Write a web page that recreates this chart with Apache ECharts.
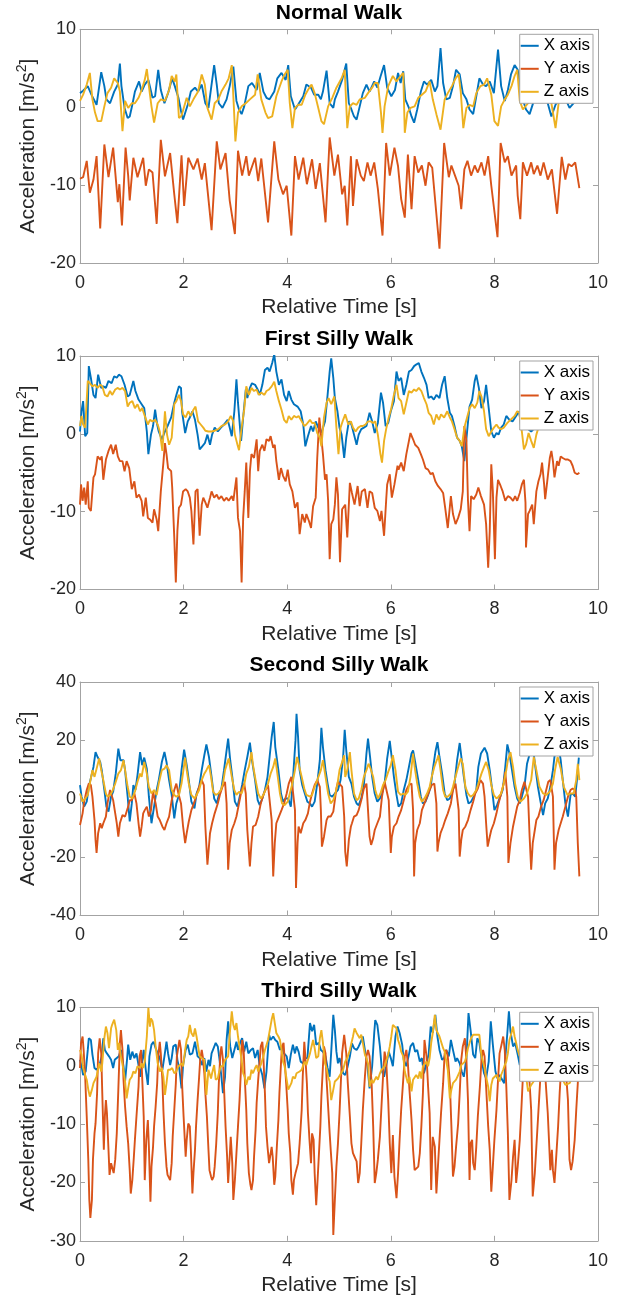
<!DOCTYPE html>
<html>
<head>
<meta charset="utf-8">
<title>Walk acceleration</title>
<script src="https://cdn.jsdelivr.net/npm/echarts@6/dist/echarts.min.js"></script>
<style>
  html, body { margin: 0; padding: 0; background: #fff; }
  #chart { width: 625px; height: 1302px; }
</style>
</head>
<body>
<div id="chart"></div>
<script>
// samples: [time s, acceleration m/s^2]
const normalX = [[0.00,1.8],[0.06,2.1],[0.15,2.7],[0.22,1.6],[0.32,0.3],[0.41,4.5],[0.47,2.7],[0.51,1.0],[0.58,0.5],[0.66,2.0],[0.73,2.9],[0.77,5.6],[0.80,2.7],[0.86,-0.1],[0.92,-1.4],[0.96,-1.2],[1.01,0.3],[1.06,2.0],[1.14,3.3],[1.19,2.0],[1.25,2.9],[1.32,3.5],[1.40,1.2],[1.45,1.4],[1.51,4.8],[1.56,2.2],[1.63,0.5],[1.70,1.8],[1.78,3.7],[1.83,2.7],[1.90,1.2],[1.95,-0.5],[1.99,-1.6],[2.08,0.3],[2.14,2.0],[2.22,2.5],[2.28,2.0],[2.35,2.9],[2.42,0.5],[2.48,-0.1],[2.59,5.4],[2.64,2.9],[2.68,0.5],[2.75,-0.1],[2.83,1.0],[2.89,2.7],[2.96,5.2],[3.02,0.8],[3.07,-0.3],[3.12,-0.9],[3.17,0.1],[3.25,2.7],[3.32,3.1],[3.41,2.2],[3.47,4.4],[3.54,2.0],[3.60,1.2],[3.66,1.0],[3.75,2.0],[3.81,3.7],[3.89,4.4],[3.97,3.5],[4.02,5.4],[4.07,1.4],[4.15,-0.3],[4.21,0.3],[4.31,1.4],[4.37,2.9],[4.46,2.5],[4.52,1.6],[4.60,1.6],[4.65,1.0],[4.69,2.0],[4.76,4.7],[4.82,0.5],[4.89,-0.1],[4.92,1.0],[4.98,2.0],[5.06,3.5],[5.14,5.6],[5.19,0.5],[5.24,-0.3],[5.29,-1.2],[5.34,-1.6],[5.40,0.1],[5.46,1.8],[5.53,2.9],[5.59,2.0],[5.68,3.3],[5.74,2.5],[5.80,3.9],[5.87,5.4],[5.93,2.5],[6.01,1.4],[6.08,2.2],[6.14,4.4],[6.19,3.1],[6.24,4.6],[6.28,1.0],[6.35,-0.1],[6.40,-1.2],[6.45,-2.0],[6.51,-0.3],[6.58,2.0],[6.64,3.3],[6.70,2.9],[6.78,3.5],[6.85,2.0],[6.90,2.7],[6.96,7.6],[7.01,3.1],[7.07,1.0],[7.14,1.2],[7.20,2.7],[7.26,4.8],[7.33,4.2],[7.39,1.8],[7.46,1.0],[7.52,-0.3],[7.59,-0.9],[7.65,1.4],[7.71,3.7],[7.78,2.9],[7.84,2.7],[7.91,3.3],[7.99,1.8],[8.07,7.4],[8.13,2.7],[8.20,0.8],[8.26,2.2],[8.32,4.2],[8.39,5.4],[8.45,4.8],[8.52,1.6],[8.61,-0.3],[8.68,-0.9],[8.77,1.0],[8.90,2.0],[9.03,0.5],[9.10,-1.2],[9.18,0.3],[9.26,1.2],[9.35,1.4],[9.45,-0.1],[9.53,0.5],[9.63,1.3]];
const normalY = [[0.00,-9.2],[0.06,-9.0],[0.13,-6.9],[0.19,-11.0],[0.26,-9.3],[0.32,-6.3],[0.39,-15.6],[0.47,-4.8],[0.55,-9.0],[0.64,-5.2],[0.73,-12.2],[0.76,-9.9],[0.81,-15.2],[0.88,-5.2],[0.93,-8.8],[0.96,-12.0],[1.03,-6.5],[1.11,-9.0],[1.22,-6.5],[1.27,-10.1],[1.33,-8.0],[1.40,-8.4],[1.48,-15.0],[1.56,-4.2],[1.64,-8.9],[1.74,-5.9],[1.82,-11.2],[1.88,-14.9],[1.96,-6.2],[2.01,-12.7],[2.09,-6.5],[2.19,-8.0],[2.27,-6.6],[2.35,-9.3],[2.41,-7.2],[2.54,-15.8],[2.64,-4.4],[2.71,-8.0],[2.81,-5.9],[2.89,-12.0],[2.99,-16.3],[3.05,-5.6],[3.13,-8.8],[3.21,-6.3],[3.26,-8.8],[3.38,-6.5],[3.44,-9.5],[3.50,-6.6],[3.63,-14.8],[3.75,-4.4],[3.83,-9.3],[3.92,-11.2],[3.99,-10.1],[4.08,-16.5],[4.15,-6.3],[4.22,-9.3],[4.31,-6.5],[4.38,-9.9],[4.48,-6.7],[4.55,-10.5],[4.63,-7.2],[4.74,-14.8],[4.82,-3.9],[4.91,-8.8],[4.98,-6.1],[5.06,-11.2],[5.11,-10.1],[5.16,-15.2],[5.23,-6.3],[5.27,-12.7],[5.34,-6.7],[5.42,-8.8],[5.48,-9.5],[5.55,-7.1],[5.61,-8.8],[5.68,-7.1],[5.75,-10.5],[5.84,-16.5],[5.91,-4.6],[5.98,-8.8],[6.07,-5.2],[6.14,-7.6],[6.20,-11.8],[6.27,-14.2],[6.33,-6.1],[6.40,-13.1],[6.46,-6.3],[6.53,-8.4],[6.60,-7.5],[6.67,-10.1],[6.73,-7.1],[6.80,-7.8],[6.94,-18.2],[7.03,-4.6],[7.12,-9.0],[7.17,-7.5],[7.24,-8.8],[7.31,-10.1],[7.36,-13.1],[7.42,-8.0],[7.48,-6.9],[7.55,-8.8],[7.62,-7.5],[7.68,-8.4],[7.75,-7.1],[7.81,-8.8],[7.88,-6.3],[7.94,-10.1],[8.06,-16.7],[8.12,-4.6],[8.20,-7.1],[8.26,-6.3],[8.33,-8.8],[8.42,-7.5],[8.45,-11.4],[8.50,-14.4],[8.55,-7.1],[8.63,-8.8],[8.71,-7.1],[8.76,-8.6],[8.83,-7.5],[8.89,-8.8],[8.95,-7.1],[9.03,-9.3],[9.11,-8.0],[9.21,-13.7],[9.30,-6.4],[9.37,-9.3],[9.43,-7.3],[9.49,-7.6],[9.56,-7.1],[9.64,-10.4]];
const normalZ = [[0.00,0.8],[0.06,1.6],[0.13,2.9],[0.19,4.4],[0.24,1.0],[0.29,-0.7],[0.34,-1.8],[0.41,-1.8],[0.47,0.1],[0.53,1.8],[0.60,2.5],[0.66,3.7],[0.73,3.1],[0.77,2.0],[0.82,-3.1],[0.87,0.8],[0.93,-0.1],[1.00,0.5],[1.06,0.5],[1.13,1.2],[1.19,2.2],[1.25,3.5],[1.29,4.9],[1.33,2.7],[1.38,0.1],[1.43,-2.0],[1.50,0.5],[1.56,1.0],[1.64,0.8],[1.72,2.2],[1.77,4.0],[1.83,3.3],[1.86,4.2],[1.91,-1.4],[1.96,-1.1],[2.06,1.2],[2.12,0.1],[2.19,1.0],[2.28,2.0],[2.35,4.2],[2.41,2.9],[2.46,-0.1],[2.54,-1.6],[2.60,0.5],[2.67,1.0],[2.73,2.0],[2.81,2.9],[2.87,3.7],[2.93,5.4],[2.97,0.1],[3.00,-4.4],[3.05,-0.7],[3.12,0.1],[3.20,0.5],[3.28,1.0],[3.38,1.6],[3.43,4.2],[3.50,1.0],[3.58,-0.7],[3.63,-1.4],[3.71,-1.2],[3.79,1.4],[3.89,3.3],[3.95,4.2],[4.01,4.8],[4.05,0.5],[4.10,-2.7],[4.15,-0.1],[4.21,0.3],[4.28,0.3],[4.35,1.6],[4.40,2.2],[4.47,2.9],[4.53,1.8],[4.60,-0.1],[4.66,-1.8],[4.71,-2.2],[4.79,0.1],[4.87,1.2],[4.95,2.5],[5.05,3.7],[5.11,4.8],[5.16,-2.7],[5.21,0.1],[5.27,0.5],[5.34,0.3],[5.40,1.0],[5.50,1.2],[5.56,1.8],[5.64,2.5],[5.69,3.1],[5.75,3.1],[5.81,-0.7],[5.84,-3.3],[5.88,0.1],[5.95,2.7],[6.04,4.0],[6.11,3.3],[6.19,4.0],[6.24,4.4],[6.27,-3.3],[6.32,-0.7],[6.38,-0.1],[6.46,0.1],[6.53,1.2],[6.60,1.6],[6.67,2.0],[6.75,3.3],[6.81,1.0],[6.88,-0.9],[6.96,-2.9],[7.04,1.0],[7.10,1.8],[7.18,2.7],[7.25,3.7],[7.31,4.2],[7.35,2.0],[7.40,-2.7],[7.46,-0.1],[7.52,0.3],[7.59,0.1],[7.65,1.8],[7.73,2.7],[7.80,2.9],[7.86,3.7],[7.94,1.6],[8.00,-1.8],[8.07,-2.4],[8.13,0.1],[8.20,1.0],[8.26,1.6],[8.33,2.7],[8.39,4.0],[8.44,4.8],[8.49,0.8],[8.55,-0.3],[8.65,0.5],[8.78,2.0],[8.90,2.9],[9.03,2.0],[9.10,0.5],[9.18,-2.7],[9.24,0.5],[9.35,2.0],[9.45,2.7],[9.55,2.0],[9.63,1.4]];

const firstX = [[0.00,0.3],[0.03,2.9],[0.06,4.2],[0.10,-0.3],[0.14,0.1],[0.17,8.7],[0.21,7.2],[0.26,5.0],[0.30,4.6],[0.35,7.6],[0.41,5.9],[0.45,6.1],[0.50,5.9],[0.55,6.8],[0.61,6.5],[0.66,7.4],[0.71,7.2],[0.75,7.6],[0.80,7.4],[0.86,6.3],[0.92,4.8],[0.96,5.0],[1.03,6.8],[1.07,5.5],[1.13,4.4],[1.19,3.8],[1.24,3.3],[1.29,0.3],[1.32,-2.6],[1.37,-0.1],[1.41,1.0],[1.45,3.1],[1.49,1.2],[1.52,0.3],[1.58,-0.7],[1.64,0.3],[1.69,1.0],[1.76,2.1],[1.82,4.0],[1.86,5.0],[1.91,6.1],[1.95,5.9],[1.97,2.9],[2.03,0.1],[2.08,1.6],[2.12,2.1],[2.17,2.9],[2.22,1.8],[2.27,-0.1],[2.31,-2.0],[2.36,-1.6],[2.41,-1.2],[2.46,-0.1],[2.51,-1.4],[2.55,-0.1],[2.60,0.8],[2.66,0.3],[2.72,0.8],[2.78,1.2],[2.85,1.8],[2.89,0.8],[2.93,-0.3],[2.98,2.9],[3.02,7.0],[3.05,4.0],[3.11,-0.9],[3.15,2.1],[3.20,5.7],[3.23,4.6],[3.28,5.9],[3.32,6.5],[3.38,6.3],[3.43,5.7],[3.47,5.0],[3.52,6.3],[3.57,8.2],[3.62,8.5],[3.66,8.0],[3.71,9.1],[3.75,10.2],[3.79,8.0],[3.84,6.3],[3.89,7.0],[3.94,5.0],[3.99,4.2],[4.03,5.5],[4.08,4.4],[4.13,3.8],[4.20,3.5],[4.26,2.9],[4.31,1.2],[4.35,-1.6],[4.40,-0.3],[4.46,1.0],[4.50,0.3],[4.55,1.6],[4.60,0.8],[4.66,0.1],[4.73,1.6],[4.78,5.0],[4.82,8.0],[4.85,9.7],[4.89,7.2],[4.92,4.6],[4.97,2.9],[5.01,0.8],[5.05,-0.1],[5.10,-3.1],[5.14,-0.5],[5.19,1.6],[5.24,1.2],[5.29,-0.1],[5.34,-1.4],[5.38,-0.1],[5.43,0.6],[5.48,0.8],[5.53,1.0],[5.59,2.7],[5.64,1.6],[5.69,0.1],[5.75,1.4],[5.81,5.3],[5.85,4.0],[5.90,1.0],[5.95,1.4],[6.00,2.9],[6.06,4.2],[6.11,8.0],[6.15,6.8],[6.20,7.2],[6.25,5.0],[6.30,6.3],[6.35,8.0],[6.40,8.2],[6.45,8.7],[6.49,8.9],[6.54,9.1],[6.59,8.0],[6.64,7.2],[6.69,6.3],[6.73,4.6],[6.78,4.8],[6.83,4.4],[6.88,5.0],[6.94,4.6],[6.99,6.3],[7.04,7.4],[7.09,4.6],[7.14,2.7],[7.18,2.3],[7.23,1.0],[7.28,-0.5],[7.33,-0.9],[7.37,-1.6],[7.42,-3.5],[7.48,0.8],[7.52,3.5],[7.57,4.4],[7.62,6.8],[7.65,7.6],[7.70,5.9],[7.75,3.3],[7.80,4.2],[7.84,6.3],[7.89,3.3],[7.94,0.3],[7.99,-0.5],[8.04,0.1],[8.08,-0.1],[8.13,0.8],[8.18,1.2],[8.23,2.3],[8.29,1.8],[8.35,1.6],[8.42,2.3],[8.48,2.9],[8.52,0.6],[8.61,0.8],[8.71,0.3],[8.84,1.2],[8.96,2.0],[9.10,2.5],[9.23,2.0],[9.35,2.7],[9.48,2.2],[9.63,2.5]];
const firstY = [[0.00,-9.1],[0.02,-6.5],[0.05,-8.6],[0.08,-6.9],[0.11,-9.1],[0.15,-6.1],[0.17,-9.5],[0.21,-9.9],[0.26,-5.6],[0.29,-5.2],[0.34,-2.9],[0.39,-3.3],[0.42,-2.9],[0.45,-5.9],[0.50,-3.3],[0.55,-2.2],[0.60,-1.4],[0.64,-2.6],[0.69,-1.4],[0.73,-2.9],[0.77,-3.5],[0.82,-3.5],[0.86,-4.8],[0.90,-3.5],[0.95,-4.4],[1.00,-7.1],[1.05,-6.1],[1.09,-8.2],[1.14,-7.8],[1.19,-8.6],[1.22,-10.6],[1.27,-8.2],[1.31,-10.8],[1.35,-11.0],[1.40,-11.4],[1.43,-9.7],[1.48,-11.0],[1.51,-12.5],[1.56,-7.4],[1.61,-3.7],[1.64,-1.2],[1.67,-2.6],[1.70,-4.4],[1.76,-4.8],[1.78,-6.9],[1.82,-13.3],[1.85,-19.1],[1.88,-12.5],[1.91,-9.5],[1.95,-9.1],[1.99,-7.4],[2.04,-7.1],[2.08,-7.4],[2.12,-8.2],[2.15,-9.9],[2.19,-14.2],[2.23,-7.4],[2.27,-7.1],[2.31,-13.1],[2.35,-9.1],[2.38,-8.2],[2.42,-8.8],[2.46,-9.5],[2.51,-8.2],[2.54,-7.4],[2.59,-8.2],[2.64,-7.8],[2.68,-8.4],[2.73,-8.0],[2.78,-8.6],[2.83,-8.2],[2.87,-8.6],[2.93,-8.0],[2.96,-8.6],[3.02,-5.6],[3.05,-10.8],[3.09,-12.5],[3.12,-19.1],[3.15,-10.8],[3.18,-7.4],[3.21,-3.7],[3.25,-10.8],[3.28,-4.8],[3.31,-2.6],[3.36,-3.1],[3.41,-0.7],[3.44,-4.8],[3.47,-2.2],[3.52,-1.4],[3.56,-2.2],[3.60,-0.7],[3.65,-0.9],[3.68,-0.3],[3.73,-1.8],[3.76,-1.4],[3.79,-3.5],[3.84,-5.9],[3.88,-4.4],[3.92,-5.4],[3.97,-6.1],[4.01,-4.6],[4.05,-6.5],[4.10,-7.4],[4.15,-9.5],[4.20,-8.8],[4.24,-12.9],[4.29,-10.3],[4.34,-11.4],[4.37,-10.3],[4.42,-11.2],[4.46,-12.1],[4.50,-9.3],[4.55,-8.2],[4.58,-3.1],[4.62,2.1],[4.65,0.1],[4.69,-2.6],[4.73,-5.9],[4.76,-5.2],[4.79,-8.6],[4.82,-16.1],[4.85,-11.6],[4.89,-11.0],[4.92,-9.1],[4.95,-5.6],[4.98,-7.8],[5.02,-16.5],[5.06,-9.7],[5.12,-9.1],[5.16,-13.3],[5.21,-6.3],[5.25,-7.6],[5.30,-9.1],[5.36,-6.7],[5.40,-9.3],[5.44,-7.4],[5.50,-7.1],[5.55,-9.5],[5.59,-7.4],[5.64,-7.6],[5.69,-9.5],[5.74,-9.9],[5.79,-11.2],[5.82,-9.9],[5.87,-13.1],[5.91,-8.6],[5.93,-6.5],[5.98,-5.2],[6.02,-8.2],[6.07,-6.5],[6.13,-4.1],[6.15,-4.6],[6.20,-3.7],[6.25,-4.8],[6.30,-2.6],[6.35,-0.9],[6.38,0.1],[6.43,-0.7],[6.47,-1.4],[6.53,-1.8],[6.58,-2.6],[6.62,-3.3],[6.67,-4.4],[6.72,-4.6],[6.77,-5.2],[6.81,-5.0],[6.86,-6.1],[6.91,-6.7],[6.96,-7.1],[7.01,-7.6],[7.05,-9.5],[7.10,-12.1],[7.16,-8.0],[7.20,-10.3],[7.25,-11.6],[7.30,-10.8],[7.35,-9.7],[7.39,-7.4],[7.42,1.0],[7.46,-0.9],[7.49,-8.6],[7.52,-12.5],[7.55,-8.0],[7.60,-8.4],[7.65,-7.8],[7.69,-6.9],[7.74,-8.0],[7.80,-9.1],[7.84,-11.6],[7.88,-17.2],[7.91,-12.5],[7.94,-3.9],[7.97,-7.4],[8.01,-16.1],[8.04,-8.2],[8.07,-5.9],[8.12,-6.7],[8.16,-7.4],[8.21,-8.6],[8.26,-8.0],[8.31,-8.2],[8.36,-8.6],[8.40,-8.0],[8.44,-8.6],[8.49,-7.6],[8.53,-6.5],[8.57,-5.9],[8.60,-8.8],[8.61,-14.6],[8.65,-10.3],[8.68,-9.9],[8.73,-9.1],[8.76,-11.6],[8.81,-7.4],[8.85,-6.1],[8.89,-5.2],[8.92,-3.7],[8.96,-6.5],[8.98,-8.4],[9.02,-6.1],[9.07,-3.1],[9.10,-2.2],[9.13,-3.5],[9.16,-5.6],[9.21,-3.5],[9.24,-4.1],[9.28,-2.9],[9.32,-3.1],[9.37,-3.3],[9.42,-3.3],[9.47,-3.5],[9.51,-4.1],[9.55,-5.0],[9.60,-5.2],[9.64,-5.0]];
const firstZ = [[0.00,1.0],[0.03,2.3],[0.06,1.2],[0.10,0.8],[0.15,6.8],[0.19,6.5],[0.24,6.1],[0.29,6.3],[0.34,5.9],[0.39,6.3],[0.43,6.1],[0.48,5.0],[0.53,4.8],[0.58,5.5],[0.62,5.0],[0.68,5.7],[0.73,5.9],[0.77,5.7],[0.82,5.9],[0.87,5.5],[0.92,3.5],[0.96,4.0],[1.01,4.2],[1.06,3.3],[1.11,3.8],[1.16,2.9],[1.20,3.3],[1.25,2.3],[1.31,1.2],[1.35,1.8],[1.40,1.6],[1.45,1.8],[1.50,1.2],[1.54,0.3],[1.59,-2.2],[1.64,2.9],[1.68,-0.1],[1.72,-1.4],[1.77,-0.5],[1.82,3.8],[1.86,4.2],[1.91,5.0],[1.95,4.2],[1.99,2.5],[2.04,2.1],[2.09,2.9],[2.14,2.3],[2.19,3.1],[2.23,3.5],[2.28,1.6],[2.33,1.2],[2.38,0.8],[2.42,0.4],[2.48,0.3],[2.54,0.3],[2.60,0.4],[2.67,0.6],[2.73,1.0],[2.80,1.2],[2.86,1.6],[2.91,2.3],[2.96,1.6],[2.99,-0.1],[3.04,-1.4],[3.07,-2.1],[3.12,0.8],[3.17,3.1],[3.21,6.1],[3.26,5.0],[3.31,5.9],[3.36,5.5],[3.41,5.7],[3.45,5.0],[3.50,5.3],[3.56,5.0],[3.60,5.5],[3.65,5.7],[3.70,6.1],[3.75,6.7],[3.79,5.5],[3.84,4.2],[3.89,3.1],[3.94,1.8],[3.99,1.4],[4.03,2.3],[4.08,1.8],[4.13,2.3],[4.18,2.1],[4.22,2.3],[4.28,1.6],[4.33,1.0],[4.37,1.2],[4.44,1.8],[4.48,1.4],[4.53,1.4],[4.58,0.1],[4.63,-0.5],[4.66,-1.6],[4.71,2.1],[4.76,4.0],[4.80,4.6],[4.85,3.8],[4.91,4.8],[4.95,0.8],[4.99,-2.6],[5.03,0.8],[5.08,1.8],[5.12,2.5],[5.18,1.2],[5.23,1.6],[5.27,0.8],[5.32,0.3],[5.37,0.8],[5.42,1.0],[5.46,1.0],[5.51,1.2],[5.56,1.6],[5.61,1.6],[5.66,1.4],[5.70,1.6],[5.75,-0.1],[5.80,-2.6],[5.83,-3.7],[5.87,-0.9],[5.91,0.6],[5.96,2.1],[6.01,3.3],[6.06,5.0],[6.11,6.3],[6.15,4.6],[6.20,4.2],[6.25,2.5],[6.30,4.0],[6.35,5.5],[6.40,5.3],[6.45,5.7],[6.49,5.5],[6.54,5.9],[6.59,5.5],[6.64,4.6],[6.69,3.8],[6.73,2.7],[6.78,2.3],[6.83,1.2],[6.88,2.5],[6.93,1.8],[6.97,2.5],[7.03,2.1],[7.09,2.9],[7.14,2.1],[7.18,1.6],[7.23,0.6],[7.28,-0.5],[7.33,-0.9],[7.37,-1.6],[7.42,0.8],[7.48,2.3],[7.52,3.3],[7.57,3.8],[7.62,3.3],[7.67,4.0],[7.71,5.5],[7.75,4.8],[7.80,2.9],[7.84,0.6],[7.89,-0.3],[7.94,0.3],[7.99,0.8],[8.04,1.2],[8.08,0.8],[8.13,0.6],[8.18,0.8],[8.25,1.4],[8.31,1.8],[8.39,2.3],[8.44,2.9],[8.48,2.7],[8.53,0.3],[8.57,-2.0],[8.61,-1.4],[8.66,0.1],[8.71,-0.9],[8.76,-1.8],[8.81,-0.1],[8.85,0.8],[8.97,2.1],[9.10,2.9],[9.23,2.5],[9.35,3.3],[9.48,2.5],[9.63,2.9]];

const secondX = [[0.00,4.7],[0.03,0.7],[0.08,-2.7],[0.13,-1.0],[0.17,4.1],[0.23,8.6],[0.26,10.9],[0.30,16.0],[0.34,14.3],[0.39,12.6],[0.42,9.8],[0.47,3.0],[0.51,-2.7],[0.55,-4.4],[0.60,0.7],[0.64,2.4],[0.69,8.6],[0.74,17.2],[0.78,13.2],[0.84,13.2],[0.87,9.8],[0.92,0.7],[0.96,-7.8],[1.00,-1.6],[1.03,4.7],[1.07,3.0],[1.11,8.1],[1.16,16.0],[1.20,11.5],[1.24,14.1],[1.29,10.3],[1.33,0.7],[1.38,-8.4],[1.43,-2.7],[1.48,3.0],[1.52,6.4],[1.58,12.6],[1.63,16.0],[1.67,12.6],[1.72,6.4],[1.77,1.3],[1.82,-6.7],[1.86,-1.6],[1.91,1.3],[1.96,9.8],[2.01,16.8],[2.06,11.5],[2.10,6.4],[2.15,-1.0],[2.21,-3.3],[2.25,1.8],[2.30,4.1],[2.35,9.8],[2.40,14.9],[2.44,18.6],[2.49,14.3],[2.54,7.5],[2.59,0.1],[2.64,-1.6],[2.68,1.3],[2.73,3.5],[2.78,9.8],[2.83,16.6],[2.86,20.6],[2.90,13.2],[2.94,7.5],[2.99,-1.0],[3.04,-2.7],[3.09,1.3],[3.13,4.7],[3.18,9.8],[3.23,14.3],[3.28,19.2],[3.32,13.2],[3.38,6.4],[3.43,-0.5],[3.47,-2.2],[3.52,0.1],[3.57,3.0],[3.62,7.5],[3.66,14.3],[3.70,21.1],[3.74,26.3],[3.77,17.7],[3.83,9.8],[3.88,1.8],[3.92,-1.0],[3.97,0.1],[4.02,0.1],[4.07,-2.7],[4.11,6.4],[4.16,20.0],[4.18,29.1],[4.21,21.1],[4.24,9.8],[4.29,4.7],[4.34,1.8],[4.39,-1.0],[4.44,-1.6],[4.48,-2.7],[4.53,-1.0],[4.58,5.2],[4.63,13.2],[4.66,24.3],[4.69,17.7],[4.74,9.8],[4.78,5.2],[4.82,1.3],[4.87,0.7],[4.92,1.8],[4.98,3.0],[5.03,6.4],[5.08,14.3],[5.11,23.6],[5.14,16.6],[5.19,7.5],[5.24,5.2],[5.29,0.7],[5.34,-1.6],[5.38,-2.2],[5.43,0.1],[5.48,4.7],[5.53,15.5],[5.56,20.6],[5.60,14.3],[5.64,7.5],[5.69,1.8],[5.74,-1.0],[5.79,0.1],[5.83,1.8],[5.88,5.2],[5.93,13.8],[5.98,19.8],[6.02,13.8],[6.06,7.5],[6.11,1.3],[6.15,-2.7],[6.20,-1.6],[6.25,3.0],[6.30,6.4],[6.35,10.9],[6.40,15.5],[6.43,16.6],[6.47,12.6],[6.53,6.4],[6.58,0.7],[6.62,-1.6],[6.67,-1.0],[6.72,1.3],[6.77,4.1],[6.81,9.8],[6.86,16.0],[6.90,19.4],[6.94,14.3],[6.99,8.6],[7.04,1.8],[7.09,-0.5],[7.14,0.1],[7.18,1.8],[7.23,5.2],[7.28,13.2],[7.33,19.1],[7.37,13.2],[7.41,7.5],[7.46,1.3],[7.50,-1.6],[7.55,-1.0],[7.60,0.7],[7.65,3.0],[7.69,10.9],[7.74,15.5],[7.81,17.5],[7.86,15.5],[7.91,9.8],[7.95,4.1],[8.00,-3.9],[8.05,-2.2],[8.10,0.1],[8.16,3.0],[8.21,10.9],[8.25,18.6],[8.29,15.5],[8.34,9.8],[8.39,4.1],[8.44,0.1],[8.49,-1.6],[8.53,0.7],[8.58,4.1],[8.63,12.0],[8.70,16.6],[8.74,18.3],[8.79,10.9],[8.84,4.1],[8.89,-1.0],[8.94,-5.6],[8.98,-1.6],[9.03,0.1],[9.08,4.1],[9.13,9.8],[9.17,16.0],[9.22,20.0],[9.28,13.2],[9.32,6.4],[9.37,-1.6],[9.42,-6.1],[9.47,1.3],[9.51,1.8],[9.56,0.7],[9.60,7.5],[9.63,14.1]];
const secondY = [[0.00,-9.0],[0.05,-5.0],[0.08,-1.0],[0.13,3.0],[0.17,5.2],[0.21,4.7],[0.24,0.7],[0.28,-7.3],[0.30,-14.1],[0.32,-18.6],[0.35,-11.8],[0.39,-8.4],[0.42,-10.1],[0.45,-8.4],[0.50,-6.1],[0.53,-1.6],[0.58,3.0],[0.61,3.5],[0.64,-0.5],[0.68,-5.0],[0.71,-8.4],[0.74,-13.0],[0.77,-8.4],[0.82,-5.6],[0.87,-6.1],[0.90,-6.7],[0.93,-2.7],[0.96,-0.5],[1.00,-0.5],[1.05,1.8],[1.09,-1.6],[1.13,-8.4],[1.16,-13.0],[1.19,-9.5],[1.22,-5.0],[1.25,-3.9],[1.29,-2.7],[1.33,-6.1],[1.37,-3.9],[1.41,2.4],[1.46,-1.6],[1.50,-6.1],[1.54,-7.3],[1.59,-9.5],[1.63,-10.7],[1.67,-8.4],[1.72,-6.1],[1.77,-0.5],[1.82,3.0],[1.86,5.2],[1.90,1.8],[1.95,-1.6],[1.99,-9.5],[2.03,-15.2],[2.06,-11.8],[2.10,-7.8],[2.15,-3.9],[2.21,-1.0],[2.25,1.3],[2.30,4.1],[2.35,6.4],[2.39,4.7],[2.42,-9.5],[2.46,-22.6],[2.51,-11.8],[2.55,-8.4],[2.60,-5.0],[2.66,-1.6],[2.70,1.3],[2.75,4.1],[2.80,5.8],[2.83,-1.6],[2.86,-24.3],[2.89,-15.2],[2.93,-10.7],[2.98,-8.4],[3.02,-6.1],[3.07,-1.6],[3.12,3.0],[3.17,5.2],[3.20,1.8],[3.23,-10.7],[3.28,-23.2],[3.31,-15.2],[3.34,-9.5],[3.39,-9.0],[3.44,-6.1],[3.49,-1.6],[3.54,1.3],[3.58,3.0],[3.63,4.7],[3.66,4.1],[3.70,-7.3],[3.73,-26.6],[3.76,-15.2],[3.79,-8.4],[3.84,-6.1],[3.89,-3.9],[3.94,-1.6],[3.99,1.8],[4.03,5.2],[4.08,7.5],[4.11,8.1],[4.15,-3.9],[4.17,-30.6],[4.20,-15.2],[4.22,-9.5],[4.26,-11.8],[4.31,-8.4],[4.35,-7.3],[4.40,-5.0],[4.44,-1.0],[4.48,1.8],[4.53,4.7],[4.58,6.4],[4.63,4.1],[4.65,-3.9],[4.67,-16.4],[4.71,-13.0],[4.76,-7.3],[4.79,-6.1],[4.84,-6.1],[4.89,-4.4],[4.92,-0.5],[4.95,3.5],[4.98,5.8],[5.01,5.2],[5.06,4.1],[5.10,-6.1],[5.12,-18.1],[5.15,-23.2],[5.19,-14.1],[5.23,-9.5],[5.25,-8.4],[5.29,-6.1],[5.34,-5.6],[5.38,-3.9],[5.43,-0.5],[5.48,3.5],[5.53,5.2],[5.56,-3.9],[5.59,-13.0],[5.62,-15.8],[5.66,-13.5],[5.69,-10.7],[5.74,-8.4],[5.79,-6.1],[5.83,0.7],[5.88,5.8],[5.91,6.4],[5.96,-0.5],[6.00,-18.6],[6.02,-13.0],[6.06,-9.5],[6.11,-8.4],[6.15,-6.1],[6.20,-3.9],[6.25,-0.5],[6.30,3.0],[6.35,4.7],[6.40,5.2],[6.43,-3.9],[6.45,-26.6],[6.47,-15.2],[6.51,-10.7],[6.56,-8.4],[6.60,-3.9],[6.65,-1.6],[6.70,0.7],[6.75,3.0],[6.79,4.7],[6.84,5.2],[6.88,-1.6],[6.90,-18.1],[6.92,-15.2],[6.96,-11.8],[7.01,-9.5],[7.05,-7.3],[7.10,-5.0],[7.16,-1.6],[7.20,3.0],[7.25,5.2],[7.28,5.8],[7.31,-3.9],[7.33,-19.8],[7.36,-14.1],[7.39,-10.7],[7.44,-9.5],[7.49,-7.3],[7.54,-3.9],[7.59,-1.0],[7.63,1.8],[7.68,3.5],[7.73,6.4],[7.78,5.2],[7.81,0.7],[7.84,-8.4],[7.87,-16.4],[7.91,-13.0],[7.94,-10.7],[7.99,-8.4],[8.04,-5.0],[8.08,-1.6],[8.13,1.8],[8.18,5.2],[8.21,9.2],[8.25,0.7],[8.27,-22.0],[8.31,-15.2],[8.36,-9.5],[8.40,-6.1],[8.44,-2.7],[8.49,-0.5],[8.53,3.0],[8.58,5.8],[8.61,6.4],[8.65,0.7],[8.68,-13.0],[8.71,-24.3],[8.74,-15.2],[8.78,-10.7],[8.81,-7.3],[8.85,-6.1],[8.90,-2.7],[8.95,-0.5],[9.00,3.0],[9.04,5.8],[9.08,6.4],[9.13,0.7],[9.16,-24.3],[9.19,-15.2],[9.24,-10.7],[9.28,-8.4],[9.32,-6.1],[9.37,-2.7],[9.42,0.7],[9.47,3.0],[9.51,3.5],[9.56,3.0],[9.58,0.7],[9.61,-15.2],[9.64,-26.6]];
const secondZ = [[0.00,1.8],[0.05,-1.0],[0.10,0.1],[0.15,1.3],[0.19,5.2],[0.24,9.8],[0.28,7.5],[0.32,10.3],[0.37,13.8],[0.41,9.8],[0.45,6.4],[0.50,1.8],[0.53,0.7],[0.58,1.3],[0.62,2.4],[0.68,5.2],[0.74,8.6],[0.79,9.8],[0.84,13.2],[0.87,9.8],[0.92,4.1],[0.96,0.7],[1.01,0.1],[1.06,2.4],[1.11,5.8],[1.16,8.6],[1.19,7.5],[1.24,12.6],[1.29,8.6],[1.33,4.1],[1.38,1.8],[1.43,3.0],[1.48,1.3],[1.52,5.2],[1.58,9.8],[1.63,10.3],[1.67,11.5],[1.72,9.8],[1.77,3.0],[1.82,1.3],[1.86,0.7],[1.91,1.3],[1.96,5.2],[2.03,14.1],[2.06,9.8],[2.10,5.2],[2.15,1.3],[2.21,0.1],[2.25,1.3],[2.30,3.0],[2.35,6.4],[2.40,8.6],[2.44,9.8],[2.49,11.5],[2.53,7.5],[2.57,2.4],[2.62,1.3],[2.67,1.8],[2.72,3.0],[2.76,5.2],[2.80,9.8],[2.83,10.3],[2.87,13.8],[2.93,7.5],[2.98,3.0],[3.02,1.3],[3.07,2.4],[3.12,1.8],[3.17,4.7],[3.21,8.6],[3.26,10.9],[3.31,16.0],[3.34,11.5],[3.39,6.4],[3.44,1.8],[3.49,0.1],[3.54,1.3],[3.58,3.0],[3.63,5.2],[3.68,8.6],[3.73,10.9],[3.77,13.8],[3.81,8.6],[3.86,1.8],[3.90,-1.6],[3.95,-2.2],[4.01,-1.0],[4.05,1.8],[4.10,5.2],[4.15,9.8],[4.19,14.3],[4.22,12.0],[4.28,7.5],[4.33,3.5],[4.37,1.3],[4.44,0.7],[4.48,1.3],[4.53,4.1],[4.58,6.4],[4.65,9.8],[4.69,13.2],[4.74,7.5],[4.79,1.8],[4.84,-1.6],[4.89,-0.5],[4.93,1.8],[4.97,5.0],[5.01,9.8],[5.06,12.6],[5.10,14.9],[5.12,7.5],[5.16,9.8],[5.21,16.0],[5.24,9.8],[5.29,1.8],[5.34,-0.5],[5.38,0.1],[5.43,3.0],[5.48,7.5],[5.53,9.8],[5.57,12.0],[5.61,10.3],[5.66,7.5],[5.70,3.0],[5.75,0.1],[5.80,1.8],[5.85,4.7],[5.90,6.4],[5.95,9.2],[6.00,11.5],[6.04,14.9],[6.09,9.8],[6.14,2.4],[6.19,1.3],[6.24,1.8],[6.28,1.3],[6.33,2.4],[6.38,7.5],[6.43,15.5],[6.46,10.9],[6.51,5.2],[6.56,0.7],[6.60,-1.0],[6.65,0.1],[6.70,1.8],[6.75,4.1],[6.79,7.5],[6.84,10.9],[6.90,13.8],[6.92,14.9],[6.96,9.8],[7.01,3.0],[7.05,0.7],[7.10,0.7],[7.16,1.8],[7.20,4.1],[7.25,7.5],[7.30,10.9],[7.35,13.8],[7.39,12.0],[7.44,4.1],[7.49,1.8],[7.54,0.7],[7.59,1.3],[7.65,3.0],[7.69,5.2],[7.75,8.6],[7.80,10.9],[7.84,12.6],[7.89,9.8],[7.94,4.7],[7.99,1.3],[8.04,0.1],[8.08,0.7],[8.13,1.8],[8.18,5.2],[8.23,9.8],[8.26,13.2],[8.31,16.0],[8.36,10.9],[8.40,5.2],[8.45,0.7],[8.50,-1.0],[8.57,0.1],[8.63,1.8],[8.71,6.4],[8.76,14.3],[8.81,9.8],[8.87,4.1],[8.94,1.8],[9.00,1.3],[9.07,2.4],[9.13,5.2],[9.17,9.8],[9.22,14.3],[9.28,10.3],[9.34,4.1],[9.41,1.3],[9.47,1.8],[9.53,1.8],[9.58,6.4],[9.61,12.0],[9.64,6.4]];

const thirdX = [[0.00,1.0],[0.03,-0.1],[0.06,-1.6],[0.11,-1.0],[0.15,2.7],[0.17,4.7],[0.21,4.4],[0.24,1.9],[0.28,-0.4],[0.32,-0.7],[0.37,-0.1],[0.42,1.6],[0.45,4.7],[0.48,2.7],[0.52,2.1],[0.56,1.6],[0.60,1.0],[0.64,-0.4],[0.67,1.0],[0.71,1.3],[0.75,1.6],[0.79,2.7],[0.84,-0.1],[0.87,-2.7],[0.91,1.3],[0.93,3.6],[0.97,1.0],[1.01,2.4],[1.05,1.3],[1.09,2.1],[1.13,0.1],[1.16,-1.9],[1.20,0.7],[1.23,2.7],[1.27,-0.7],[1.31,-3.3],[1.34,1.6],[1.38,3.6],[1.42,4.1],[1.46,3.0],[1.50,2.1],[1.54,1.3],[1.59,-0.7],[1.63,1.6],[1.67,4.1],[1.70,2.1],[1.74,0.1],[1.77,1.3],[1.80,3.3],[1.85,3.6],[1.88,1.0],[1.92,-0.7],[1.96,-3.9],[1.99,0.1],[2.04,2.7],[2.08,3.6],[2.12,1.9],[2.17,2.1],[2.22,4.1],[2.27,1.6],[2.31,1.3],[2.36,0.1],[2.40,1.3],[2.44,-1.0],[2.48,1.0],[2.51,-0.1],[2.54,2.1],[2.58,3.0],[2.62,3.9],[2.66,3.3],[2.69,1.3],[2.73,-1.9],[2.76,-4.7],[2.80,-1.9],[2.83,4.4],[2.86,7.6],[2.90,3.3],[2.94,1.3],[2.98,2.7],[3.02,4.1],[3.05,2.7],[3.09,3.9],[3.13,4.7],[3.17,2.4],[3.21,4.1],[3.25,2.1],[3.30,2.7],[3.34,3.0],[3.38,1.3],[3.43,2.7],[3.47,-0.1],[3.52,-1.6],[3.56,-3.9],[3.60,-1.0],[3.65,5.3],[3.68,4.4],[3.73,5.0],[3.77,4.4],[3.81,4.1],[3.86,2.7],[3.89,3.3],[3.94,2.1],[3.99,1.6],[4.03,-0.4],[4.07,1.9],[4.11,3.6],[4.15,2.1],[4.18,3.3],[4.22,2.4],[4.26,0.7],[4.31,0.4],[4.35,1.3],[4.39,1.3],[4.44,7.3],[4.48,5.9],[4.52,7.0],[4.56,3.6],[4.61,3.9],[4.65,2.7],[4.69,2.4],[4.74,1.6],[4.78,-0.4],[4.82,-1.9],[4.85,2.4],[4.89,8.7],[4.92,6.1],[4.95,2.4],[4.98,0.4],[5.01,1.3],[5.08,-1.3],[5.12,-1.6],[5.16,-0.4],[5.21,1.6],[5.25,3.8],[5.29,3.0],[5.34,2.7],[5.38,3.3],[5.42,4.1],[5.46,5.0],[5.51,2.1],[5.55,-0.1],[5.59,-3.9],[5.64,-0.1],[5.68,5.6],[5.70,7.8],[5.74,7.0],[5.79,3.3],[5.83,-1.0],[5.87,-1.9],[5.91,-0.1],[5.96,2.4],[6.00,1.3],[6.04,-0.1],[6.09,5.0],[6.13,6.7],[6.17,5.6],[6.22,3.6],[6.25,1.0],[6.30,-0.1],[6.35,1.9],[6.38,3.3],[6.43,3.9],[6.47,2.4],[6.51,2.7],[6.56,0.7],[6.60,1.3],[6.64,-1.3],[6.69,0.4],[6.73,1.9],[6.77,6.7],[6.81,5.6],[6.86,8.7],[6.90,5.0],[6.94,2.7],[6.99,1.0],[7.03,1.3],[7.07,2.7],[7.12,1.6],[7.16,4.4],[7.20,2.7],[7.25,0.7],[7.28,1.3],[7.33,0.4],[7.37,-1.0],[7.41,-1.9],[7.46,1.3],[7.50,9.0],[7.54,6.1],[7.59,1.9],[7.63,1.3],[7.67,4.7],[7.71,3.9],[7.76,0.7],[7.80,-1.3],[7.84,-2.2],[7.89,0.7],[7.93,7.6],[7.97,3.6],[8.02,-1.0],[8.06,-2.2],[8.10,-1.6],[8.15,-2.4],[8.19,-3.0],[8.21,1.3],[8.25,5.6],[8.28,9.3],[8.31,5.9],[8.36,3.3],[8.40,3.9],[8.45,1.9],[8.49,0.1],[8.58,3.3],[8.71,1.6],[8.84,4.4],[8.97,1.6],[9.10,3.3],[9.23,1.6],[9.35,3.9],[9.48,2.1],[9.63,2.7]];
const thirdY = [[0.00,-0.4],[0.02,3.9],[0.05,5.0],[0.07,2.7],[0.10,-1.9],[0.13,-8.7],[0.16,-16.1],[0.18,-23.0],[0.20,-26.1],[0.23,-23.0],[0.25,-16.1],[0.28,-11.6],[0.30,-9.9],[0.33,-4.7],[0.35,2.1],[0.38,4.7],[0.41,2.1],[0.43,-4.7],[0.46,-14.4],[0.48,-8.7],[0.50,-5.9],[0.52,-8.1],[0.55,-14.4],[0.57,-18.7],[0.60,-16.7],[0.62,-17.0],[0.65,-18.4],[0.68,-16.1],[0.71,-11.6],[0.74,-4.1],[0.77,3.9],[0.79,6.1],[0.82,2.7],[0.84,-2.4],[0.87,-7.0],[0.90,-10.4],[0.93,-13.3],[0.96,-17.9],[0.98,-21.9],[1.01,-19.6],[1.04,-15.6],[1.06,-12.7],[1.09,-8.7],[1.13,-3.6],[1.15,1.6],[1.18,2.7],[1.20,-1.9],[1.23,-8.7],[1.25,-19.6],[1.28,-12.7],[1.31,-9.3],[1.33,-13.9],[1.36,-23.3],[1.38,-17.3],[1.41,-13.9],[1.43,-10.4],[1.46,-7.0],[1.49,-3.0],[1.51,1.6],[1.54,4.1],[1.56,2.1],[1.59,-2.4],[1.61,-7.6],[1.64,-13.3],[1.67,-17.3],[1.69,-18.7],[1.72,-19.0],[1.74,-19.6],[1.77,-16.7],[1.79,-12.1],[1.82,-7.6],[1.85,-3.0],[1.87,1.6],[1.90,3.3],[1.92,4.4],[1.95,2.7],[1.97,-3.0],[2.00,-8.7],[2.03,-13.9],[2.04,-15.6],[2.06,-12.7],[2.09,-9.9],[2.12,-10.4],[2.14,-14.4],[2.17,-21.9],[2.19,-18.4],[2.22,-14.4],[2.24,-10.4],[2.27,-5.9],[2.30,-1.9],[2.32,1.0],[2.35,2.7],[2.37,1.6],[2.40,-1.3],[2.42,-4.7],[2.45,-8.7],[2.48,-14.4],[2.50,-17.9],[2.53,-19.0],[2.55,-19.6],[2.58,-19.0],[2.60,-17.3],[2.63,-13.3],[2.66,-8.1],[2.68,-3.0],[2.71,2.1],[2.73,3.3],[2.76,1.0],[2.78,-3.6],[2.81,-10.4],[2.84,-15.6],[2.86,-20.1],[2.89,-15.6],[2.91,-12.2],[2.94,-16.7],[2.96,-23.0],[2.99,-19.6],[3.02,-15.0],[3.05,-10.4],[3.08,-5.9],[3.11,-0.1],[3.13,4.4],[3.16,2.7],[3.18,-1.9],[3.21,-7.6],[3.23,-13.3],[3.26,-18.4],[3.29,-20.4],[3.31,-21.3],[3.34,-19.6],[3.36,-15.6],[3.39,-11.0],[3.41,-6.4],[3.44,-2.4],[3.47,1.0],[3.49,3.3],[3.52,4.1],[3.54,1.6],[3.57,-4.7],[3.59,-10.4],[3.62,-13.9],[3.65,-16.7],[3.67,-15.6],[3.70,-13.9],[3.72,-15.6],[3.75,-20.4],[3.77,-19.0],[3.80,-13.9],[3.83,-9.3],[3.85,-4.7],[3.88,0.4],[3.90,3.3],[3.93,3.9],[3.95,1.0],[3.98,-3.0],[4.01,-7.6],[4.03,-11.6],[4.06,-15.0],[4.08,-19.6],[4.11,-22.1],[4.13,-19.6],[4.16,-18.4],[4.19,-18.7],[4.21,-16.7],[4.24,-13.3],[4.28,-7.6],[4.30,-1.9],[4.33,4.1],[4.35,1.6],[4.38,-3.0],[4.40,-8.1],[4.43,-12.7],[4.46,-16.7],[4.48,-11.6],[4.51,-12.7],[4.53,-18.4],[4.56,-23.9],[4.58,-20.7],[4.61,-15.6],[4.64,-10.4],[4.66,-5.3],[4.69,-0.1],[4.71,3.3],[4.74,2.1],[4.76,-2.4],[4.79,-7.0],[4.82,-11.6],[4.84,-14.4],[4.87,-18.4],[4.89,-29.0],[4.92,-23.0],[4.95,-17.3],[4.98,-13.3],[5.01,-8.1],[5.06,2.1],[5.10,5.3],[5.14,2.1],[5.17,-3.0],[5.21,-8.7],[5.24,-13.3],[5.27,-15.0],[5.30,-15.6],[5.34,-16.4],[5.37,-20.1],[5.40,-18.4],[5.43,-13.3],[5.46,-7.6],[5.50,-1.9],[5.53,1.6],[5.56,2.7],[5.59,1.6],[5.63,-3.0],[5.66,-10.4],[5.69,-20.1],[5.72,-18.4],[5.75,-16.1],[5.79,-12.1],[5.82,-7.0],[5.85,-1.9],[5.88,2.4],[5.91,1.0],[5.95,-5.9],[5.98,-13.3],[6.01,-18.4],[6.04,-11.9],[6.07,-19.0],[6.11,-22.7],[6.14,-18.4],[6.17,-12.7],[6.20,-7.6],[6.24,-2.4],[6.27,1.6],[6.30,2.7],[6.33,0.4],[6.36,-4.1],[6.40,-9.3],[6.43,-14.4],[6.46,-17.9],[6.49,-18.1],[6.53,-17.3],[6.56,-15.0],[6.59,-10.4],[6.62,-4.7],[6.65,4.4],[6.69,1.6],[6.72,-3.6],[6.75,-8.1],[6.78,-21.3],[6.81,-12.2],[6.85,-13.9],[6.88,-21.9],[6.91,-17.3],[6.94,-12.7],[6.97,-8.1],[7.01,-3.0],[7.04,2.1],[7.07,2.7],[7.10,1.6],[7.14,-3.0],[7.17,-10.4],[7.20,-19.0],[7.23,-17.3],[7.26,-13.9],[7.30,-9.9],[7.33,-4.7],[7.36,1.0],[7.39,3.3],[7.43,4.7],[7.46,1.0],[7.49,-5.9],[7.52,-19.6],[7.54,-13.3],[7.57,-12.7],[7.59,-16.7],[7.62,-17.9],[7.65,-13.9],[7.68,-8.7],[7.72,-3.6],[7.75,1.0],[7.78,2.7],[7.81,1.6],[7.84,-3.6],[7.88,-10.4],[7.91,-14.4],[7.94,-21.6],[7.97,-17.3],[8.00,-12.7],[8.04,-7.6],[8.07,-2.4],[8.10,2.1],[8.13,3.3],[8.17,5.0],[8.20,2.7],[8.23,-3.6],[8.26,-11.6],[8.29,-23.0],[8.33,-19.6],[8.36,-15.6],[8.39,-12.7],[8.42,-20.1],[8.45,-17.3],[8.49,-12.7],[8.52,-7.6],[8.55,-1.9],[8.61,2.7],[8.68,-3.0],[8.71,-7.6],[8.74,-22.4],[8.78,-18.4],[8.81,-13.9],[8.84,-9.3],[8.87,-4.7],[8.90,-0.1],[8.94,2.7],[8.97,-0.1],[9.03,-8.1],[9.08,-17.9],[9.11,-14.4],[9.13,-17.9],[9.16,-20.1],[9.19,-16.1],[9.23,-10.4],[9.26,-4.7],[9.29,-0.1],[9.35,2.7],[9.42,-5.9],[9.45,-16.1],[9.48,-17.9],[9.51,-16.4],[9.55,-12.7],[9.58,-7.6],[9.61,-3.0],[9.63,-0.1]];
const thirdZ = [[0.00,2.7],[0.03,1.9],[0.06,-0.4],[0.10,-1.6],[0.13,-2.4],[0.16,-4.1],[0.19,-5.3],[0.23,-4.1],[0.26,-3.0],[0.29,-3.3],[0.32,-1.9],[0.37,0.4],[0.41,-1.0],[0.43,0.4],[0.47,4.7],[0.50,6.7],[0.53,5.6],[0.56,3.0],[0.60,6.4],[0.62,7.0],[0.66,7.9],[0.70,6.1],[0.73,2.7],[0.75,3.9],[0.79,1.6],[0.84,-0.7],[0.87,-2.7],[0.90,-5.6],[0.93,-3.9],[0.96,-2.4],[1.00,-1.9],[1.03,-1.0],[1.07,-1.3],[1.11,-0.1],[1.16,-0.4],[1.19,0.4],[1.22,-0.4],[1.25,0.7],[1.29,5.0],[1.32,9.9],[1.35,6.7],[1.37,8.1],[1.40,7.6],[1.43,6.1],[1.46,3.3],[1.50,0.4],[1.54,-1.0],[1.58,-0.4],[1.61,-1.9],[1.64,-5.0],[1.67,-3.0],[1.70,-0.7],[1.74,-0.7],[1.78,-0.4],[1.82,-1.3],[1.86,-1.0],[1.90,-0.1],[1.93,0.1],[1.96,0.4],[1.99,-0.1],[2.03,2.7],[2.06,4.4],[2.09,5.0],[2.12,7.0],[2.15,5.6],[2.19,5.0],[2.22,6.4],[2.25,5.0],[2.28,3.3],[2.31,1.6],[2.35,1.3],[2.40,1.0],[2.44,-5.0],[2.48,-0.7],[2.51,-0.4],[2.53,-2.2],[2.55,-1.3],[2.59,0.1],[2.62,-2.4],[2.66,-2.2],[2.68,-1.3],[2.72,-0.1],[2.76,-0.1],[2.80,1.0],[2.83,0.7],[2.86,1.6],[2.89,5.3],[2.93,9.3],[2.96,7.0],[2.99,6.1],[3.02,7.3],[3.05,5.0],[3.09,2.7],[3.12,1.0],[3.15,-1.3],[3.18,-1.9],[3.21,-3.3],[3.25,-1.9],[3.28,-2.4],[3.31,-0.7],[3.34,-1.3],[3.38,-0.4],[3.41,0.1],[3.44,-1.0],[3.47,-0.7],[3.50,0.4],[3.54,1.6],[3.57,2.7],[3.60,3.0],[3.63,4.4],[3.66,4.7],[3.70,7.9],[3.73,9.0],[3.76,7.3],[3.79,5.6],[3.83,5.0],[3.86,4.4],[3.89,2.7],[3.92,0.7],[3.95,-0.1],[3.99,-2.4],[4.02,-4.1],[4.05,-3.9],[4.08,-3.0],[4.11,-1.9],[4.15,-2.2],[4.18,-1.3],[4.21,-1.6],[4.24,-1.0],[4.28,-0.7],[4.31,0.1],[4.34,0.7],[4.37,0.1],[4.40,1.0],[4.44,2.1],[4.47,3.3],[4.50,4.4],[4.53,3.0],[4.56,1.3],[4.60,1.6],[4.63,4.7],[4.66,6.1],[4.69,3.9],[4.73,0.4],[4.76,-0.4],[4.79,-1.9],[4.82,-2.7],[4.85,-5.9],[4.89,-4.1],[4.92,-2.7],[4.95,-2.4],[4.98,-2.2],[5.01,-1.9],[5.08,-0.7],[5.12,0.7],[5.16,1.3],[5.21,2.7],[5.24,3.9],[5.27,5.0],[5.30,6.4],[5.34,5.6],[5.37,5.9],[5.40,4.7],[5.43,5.3],[5.46,3.9],[5.50,1.9],[5.53,1.3],[5.56,0.4],[5.59,-3.6],[5.63,-2.4],[5.66,-3.0],[5.69,-2.4],[5.72,-1.9],[5.75,-2.4],[5.79,-1.3],[5.82,-0.7],[5.85,-1.0],[5.88,-0.1],[5.91,0.7],[5.95,1.9],[5.98,3.3],[6.01,5.0],[6.04,7.0],[6.07,7.3],[6.11,6.4],[6.14,4.4],[6.17,3.6],[6.20,2.4],[6.24,1.6],[6.27,-1.0],[6.30,-1.3],[6.33,-3.0],[6.36,-1.9],[6.40,-4.4],[6.43,-2.4],[6.46,-2.7],[6.49,-1.6],[6.53,-2.2],[6.56,-1.0],[6.59,-2.2],[6.62,-0.1],[6.65,0.1],[6.69,0.7],[6.72,-0.1],[6.75,1.3],[6.78,3.9],[6.81,5.6],[6.85,8.7],[6.88,6.1],[6.91,5.9],[6.94,5.0],[6.97,4.7],[7.01,3.0],[7.04,2.4],[7.07,2.1],[7.10,-0.7],[7.14,-5.6],[7.17,-4.1],[7.20,-3.0],[7.23,-2.7],[7.26,-2.4],[7.30,-1.6],[7.33,-1.0],[7.36,0.1],[7.39,0.1],[7.43,0.7],[7.46,1.6],[7.49,3.0],[7.52,3.9],[7.55,4.7],[7.59,5.3],[7.62,5.6],[7.65,5.3],[7.68,5.6],[7.71,5.3],[7.75,1.6],[7.78,0.7],[7.81,-0.4],[7.84,-1.9],[7.88,-3.6],[7.91,-6.1],[7.94,-3.3],[7.97,-2.2],[8.00,-2.4],[8.04,-1.6],[8.07,-1.9],[8.10,-2.7],[8.13,-1.6],[8.17,-0.7],[8.20,0.1],[8.23,0.7],[8.26,2.1],[8.29,4.4],[8.33,5.6],[8.36,6.7],[8.39,5.0],[8.42,3.9],[8.45,2.7],[8.49,1.6],[8.55,-0.7],[8.62,-2.4],[8.65,-4.4],[8.71,-3.3],[8.78,-2.4],[8.90,-0.1],[9.03,3.3],[9.16,1.0],[9.29,-1.9],[9.37,-3.3],[9.45,-3.0],[9.55,-1.3],[9.63,-0.1]];

const titles = ['Normal Walk', 'First Silly Walk', 'Second Silly Walk', 'Third Silly Walk'];
const seriesNames = ['X axis', 'Y axis', 'Z axis'];
const xTicks = [0, 10, 2];                 // min, max, step
const yTicks = [[-20, 10, 10], [-20, 10, 10], [-40, 40, 20], [-30, 10, 10]];
const panels = [
    [normalX, normalY, normalZ],
    [firstX, firstY, firstZ],
    [secondX, secondY, secondZ],
    [thirdX, thirdY, thirdZ]
];

const colors = ['#0072BD', '#D95319', '#EDB120'];
const font = "'Liberation Sans', Arial, Helvetica, sans-serif";
const boxColor = '#a3a3a3';
const textColor = '#262626';
const gridTops = [29.3, 356, 682, 1007.3];
const gridLeft = 80, gridWidth = 518, gridHeight = 233.5;

let option = {
    animation: false,
    backgroundColor: '#fff',
    title: [], grid: [], xAxis: [], yAxis: [], legend: [], series: []
};

function axisBase(show) {
    return {
        axisLine: { show: true, onZero: false, lineStyle: { color: boxColor, width: 1 } },
        axisTick: { show: true, inside: true, length: 5, lineStyle: { color: boxColor } },
        axisLabel: { show: show, color: textColor, fontSize: 18, fontFamily: font },
        splitLine: { show: false }
    };
}

panels.forEach(function (panel, i) {
    const top = gridTops[i];

    option.grid.push({ left: gridLeft, top: top, width: gridWidth, height: gridHeight });

    option.title.push({
        text: titles[i],
        left: gridLeft + gridWidth / 2,
        textAlign: 'center',
        top: top - 27,
        padding: 0,
        textStyle: { fontSize: 21, fontWeight: 'bold', color: '#000', fontFamily: font }
    });

    // bottom + top x axes (MATLAB box)
    let xb = axisBase(true);
    Object.assign(xb, {
        type: 'value', gridIndex: i, position: 'bottom',
        min: xTicks[0], max: xTicks[1], interval: xTicks[2],
        name: 'Relative Time [s]', nameLocation: 'middle', nameGap: 34,
        nameTextStyle: { fontSize: 21, color: textColor, fontFamily: font }
    });
    xb.axisLabel.margin = 11;
    option.xAxis.push(xb);

    let xt = axisBase(false);
    Object.assign(xt, {
        type: 'value', gridIndex: i, position: 'top',
        min: xTicks[0], max: xTicks[1], interval: xTicks[2]
    });
    option.xAxis.push(xt);

    // left + right y axes
    const yr = yTicks[i];
    let yl = axisBase(true);
    Object.assign(yl, {
        type: 'value', gridIndex: i, position: 'left',
        min: yr[0], max: yr[1], interval: yr[2],
        name: 'Acceleration [m/s{sup|2}]', nameLocation: 'middle', nameGap: 30, nameRotate: 90,
        nameTextStyle: {
            fontSize: 21, color: textColor, fontFamily: font,
            rich: { sup: { fontSize: 14, color: textColor, fontFamily: font, padding: [0, 0, 12, 0] } }
        }
    });
    yl.axisLabel.margin = 4;
    option.yAxis.push(yl);

    let yrt = axisBase(false);
    Object.assign(yrt, {
        type: 'value', gridIndex: i, position: 'right',
        min: yr[0], max: yr[1], interval: yr[2]
    });
    option.yAxis.push(yrt);

    option.legend.push({
        data: seriesNames,
        orient: 'vertical',
        right: 32,
        top: top + 5,
        align: 'left',
        icon: 'rect',
        itemWidth: 18,
        itemHeight: 2,
        itemGap: 4,
        padding: [2, 3, 2, 1],
        selectedMode: false,
        z: 20,
        backgroundColor: '#fff',
        borderColor: boxColor,
        borderWidth: 1,
        borderRadius: 0,
        textStyle: { fontSize: 17, color: '#000', fontFamily: font, lineHeight: 19 }
    });

    panel.forEach(function (data, k) {
        option.series.push({
            name: seriesNames[k],
            type: 'line',
            xAxisIndex: 2 * i,
            yAxisIndex: 2 * i,
            data: data,
            symbol: 'none',
            showSymbol: false,
            color: colors[k],
            lineStyle: { color: colors[k], width: 1.9 },
            z: 2
        });
    });
});

const myChart = echarts.init(document.getElementById('chart'), null, { renderer: 'canvas' });
myChart.setOption(option);
</script>
</body>
</html>
